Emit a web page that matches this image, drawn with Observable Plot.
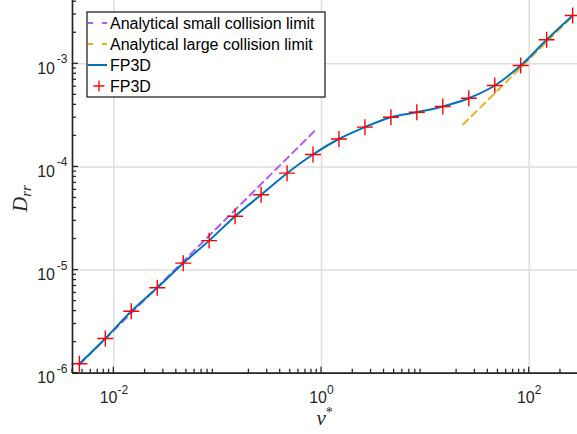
<!DOCTYPE html>
<html>
<head>
<meta charset="utf-8">
<script src="https://cdn.jsdelivr.net/npm/d3@7"></script>
<script src="https://cdn.jsdelivr.net/npm/@observablehq/plot@0.6"></script>
<style>
  html, body { margin: 0; padding: 0; background: #fff; }
  #chart svg { display: block; }
</style>
</head>
<body>
<div id="chart"></div>
<script>
// ---- data ----
const nu  = [0.00466, 0.00828, 0.01472, 0.0262, 0.0466, 0.0828, 0.1472, 0.262, 0.466, 0.828,
             1.472, 2.62, 4.66, 8.28, 14.72, 26.2, 46.6, 82.8, 147.2, 262];
const drr = [1.233e-6, 2.17e-6, 3.99e-6, 6.73e-6, 1.167e-5, 1.93e-5, 3.33e-5, 5.37e-5, 8.70e-5, 1.321e-4,
             1.866e-4, 2.43e-4, 3.03e-4, 3.39e-4, 3.86e-4, 4.64e-4, 6.16e-4, 9.63e-4, 1.71e-3, 2.94e-3];
const smallNu = [0.00466, 0.895];
const smallD  = [1.213e-6, 2.33e-4];
const largeNu = [23.1, 262];
const largeD  = [2.58e-4, 2.89e-3];
const xTicks = [1e-2, 1, 1e2];
const xTickExp = ["-2", "0", "2"];
const yTicks = [1e-6, 1e-5, 1e-4, 1e-3];
const yTickExp = ["-6", "-5", "-4", "-3"];
const seriesNames = ["Analytical small collision limit", "Analytical large collision limit", "FP3D", "FP3D"];
const xDomain = [0.004, 291.8];
const yDomain = [1e-6, 4.11e-3];

// ---- styles ----
const C_PURPLE = "#b15cf5", C_ORANGE = "#EDB120", C_BLUE = "#0072BD", C_RED = "#ff0000", C_AX = "#262626";
const SANS = "'Liberation Sans', Arial, Helvetica, sans-serif";
const SERIF = "'Liberation Serif', 'Times New Roman', serif";

const main = nu.map((v, i) => ({nu: v, d: drr[i]}));
const small = smallNu.map((v, i) => ({nu: v, d: smallD[i]}));
const large = largeNu.map((v, i) => ({nu: v, d: largeD[i]}));

function minorTicks(domain) {
  const out = [];
  const lo = Math.floor(Math.log10(domain[0])), hi = Math.ceil(Math.log10(domain[1]));
  for (let k = lo; k <= hi; k++) for (let m = 2; m <= 9; m++) {
    const v = m * Math.pow(10, k);
    if (v >= domain[0] && v <= domain[1]) out.push(v);
  }
  return out;
}

const xLabelMarks = xTicks.flatMap((t, i) => {
  const neg = xTickExp[i].startsWith("-");
  const shift = neg ? 3.6 : 5.5;
  return [
    Plot.text([t], {x: d => d, y: () => yDomain[0], text: () => "10", textAnchor: "end",
      dx: shift, dy: 24.9, fontSize: 16, fontFamily: SANS, fill: C_AX}),
    Plot.text([t], {x: d => d, y: () => yDomain[0], text: () => xTickExp[i], textAnchor: "start",
      dx: shift, dy: 16.8, fontSize: 12, fontFamily: SANS, fill: C_AX})
  ];
});

const yLabelMarks = yTicks.flatMap((t, i) => [
  Plot.text([t], {x: () => xDomain[0], y: d => d, text: () => "10", textAnchor: "end",
    dx: -17.5, dy: 4.9, fontSize: 16, fontFamily: SANS, fill: C_AX}),
  Plot.text([t], {x: () => xDomain[0], y: d => d, text: () => yTickExp[i], textAnchor: "end",
    dx: -5, dy: -4.3, fontSize: 12, fontFamily: SANS, fill: C_AX})
]);

const chart = Plot.plot({
  width: 577,
  height: 434,
  marginLeft: 72,
  marginRight: 0,
  marginTop: 0,
  marginBottom: 61.3,
  style: {background: "#fff", overflow: "visible"},
  x: {type: "log", domain: xDomain, axis: null},
  y: {type: "log", domain: yDomain, axis: null},
  marks: [
    Plot.gridX(xTicks, {stroke: "#dedede", strokeOpacity: 1, strokeWidth: 1.5}),
    Plot.gridY(yTicks, {stroke: "#dedede", strokeOpacity: 1, strokeWidth: 1.5}),
    Plot.line(small, {x: "nu", y: "d", stroke: C_PURPLE, strokeWidth: 2, strokeDasharray: "7,5"}),
    Plot.line(large, {x: "nu", y: "d", stroke: C_ORANGE, strokeWidth: 2, strokeDasharray: "7,5"}),
    Plot.line(main, {x: "nu", y: "d", stroke: C_BLUE, strokeWidth: 2, curve: "catmull-rom"}),
    Plot.dot(main, {x: "nu", y: "d", symbol: "plus", r: 5.2, stroke: C_RED, strokeWidth: 1.4}),
    Plot.ruleX([xDomain[0]], {stroke: C_AX, strokeWidth: 1.7}),
    Plot.ruleY([yDomain[0]], {stroke: C_AX, strokeWidth: 1.7}),
    ...xLabelMarks,
    ...yLabelMarks
  ]
});

document.getElementById("chart").appendChild(chart);

// ---- inward ticks, positioned through Plot's own scales ----
const svg = d3.select(chart);
const sx = chart.scale("x"), sy = chart.scale("y");
const x0 = sx.apply(xDomain[0]), y0 = sy.apply(yDomain[0]);
const tg = svg.append("g").attr("stroke", C_AX).attr("stroke-width", 1.3).attr("fill", "none");
xTicks.forEach(t => { const px = sx.apply(t); tg.append("line").attr("x1", px).attr("x2", px).attr("y1", y0).attr("y2", y0 - 6); });
minorTicks(xDomain).forEach(t => { const px = sx.apply(t); tg.append("line").attr("x1", px).attr("x2", px).attr("y1", y0).attr("y2", y0 - 4); });
yTicks.forEach(t => { const py = sy.apply(t); tg.append("line").attr("y1", py).attr("y2", py).attr("x1", x0).attr("x2", x0 + 6); });
minorTicks(yDomain).forEach(t => { const py = sy.apply(t); tg.append("line").attr("y1", py).attr("y2", py).attr("x1", x0).attr("x2", x0 + 4); });

// ---- axis titles and legend (annotation layer) ----
const xl = svg.append("text")
  .attr("x", 316.5).attr("y", 425).attr("text-anchor", "start")
  .attr("font-family", SERIF).attr("font-style", "italic").attr("font-size", 21).attr("fill", C_AX);
xl.append("tspan").text("ν");
xl.append("tspan").attr("font-size", 14).attr("dy", -8).attr("font-style", "normal").text("*");

const yl = svg.append("text")
  .attr("transform", "translate(26.5,212) rotate(-90)").attr("text-anchor", "start")
  .attr("font-family", SERIF).attr("font-style", "italic").attr("font-size", 21).attr("fill", C_AX);
yl.append("tspan").text("D");
yl.append("tspan").attr("font-size", 15).attr("dy", 4).text("rr");

const lg = svg.append("g");
lg.append("rect").attr("x", 87).attr("y", 12).attr("width", 238).attr("height", 85)
  .attr("fill", "#fff").attr("stroke", C_AX).attr("stroke-width", 1.3);
const rows = [23, 44, 65, 86];
const legendStyles = [
  {type: "line", color: C_PURPLE, dash: "5,9"},
  {type: "line", color: C_ORANGE, dash: "5,9"},
  {type: "line", color: C_BLUE, dash: null},
  {type: "plus", color: C_RED}
];
seriesNames.forEach((name, i) => {
  const y = rows[i], s = legendStyles[i];
  if (s.type === "line") {
    const l = lg.append("line").attr("x1", 88).attr("x2", 107).attr("y1", y).attr("y2", y)
      .attr("stroke", s.color).attr("stroke-width", 2);
    if (s.dash) l.attr("stroke-dasharray", s.dash);
  } else {
    lg.append("path").attr("d", `M${99 - 5.5},${y}H${99 + 5.5}M99,${y - 5.5}V${y + 5.5}`)
      .attr("stroke", s.color).attr("stroke-width", 1.3).attr("fill", "none");
  }
  lg.append("text").attr("x", 110).attr("y", y + 5.5).attr("text-anchor", "start")
    .attr("font-family", SANS).attr("font-size", 16).attr("fill", "#000").text(name);
});
</script>
</body>
</html>
